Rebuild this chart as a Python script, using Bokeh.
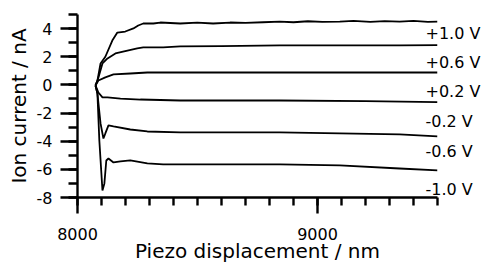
from bokeh.plotting import figure
from bokeh.models import SingleIntervalTicker, FixedTicker, LinearAxis, Range1d
from bokeh.embed import file_html
from bokeh.resources import INLINE

# --- data ---
x_p10 = [8075, 8083, 8096, 8116, 8145, 8166, 8199, 8233, 8253, 8274, 8316, 8345, 8428, 8499, 8565, 8636, 8700, 8773, 8843, 8900, 8960, 9020, 9093, 9150, 9220, 9280, 9342, 9400, 9460, 9500]
y_p10 = [-0.04, 0.3, 1.52, 2.0, 3.15, 3.72, 3.79, 4.01, 4.22, 4.36, 4.36, 4.43, 4.36, 4.43, 4.36, 4.43, 4.40, 4.45, 4.50, 4.45, 4.52, 4.47, 4.50, 4.55, 4.48, 4.53, 4.50, 4.55, 4.48, 4.50]

x_p06 = [8075, 8087, 8104, 8125, 8158, 8208, 8249, 8274, 8357, 8428, 8600, 8843, 9100, 9342, 9500]
y_p06 = [-0.04, 0.5, 1.52, 1.88, 2.23, 2.44, 2.59, 2.66, 2.66, 2.73, 2.76, 2.80, 2.80, 2.80, 2.82]

x_p02 = [8075, 8087, 8116, 8150, 8220, 8291, 8500, 8843, 9200, 9500]
y_p02 = [-0.04, 0.31, 0.53, 0.74, 0.81, 0.88, 0.88, 0.88, 0.88, 0.88]

x_m02 = [8075, 8087, 8104, 8125, 8179, 8262, 8428, 8843, 9200, 9500]
y_m02 = [-0.04, -0.54, -0.89, -0.89, -0.97, -1.04, -1.11, -1.11, -1.15, -1.22]

x_m06 = [8075, 8083, 8096, 8108, 8116, 8129, 8150, 8220, 8291, 8428, 8843, 9093, 9342, 9500]
y_m06 = [-0.04, -0.61, -2.74, -3.81, -3.45, -2.88, -2.95, -3.17, -3.31, -3.38, -3.38, -3.45, -3.52, -3.66]

x_m10 = [8075, 8083, 8091, 8104, 8112, 8120, 8129, 8150, 8179, 8220, 8291, 8357, 8500, 8843, 9093, 9342, 9500]
y_m10 = [-0.04, -0.61, -3.95, -7.5, -7.0, -5.37, -5.23, -5.51, -5.44, -5.37, -5.58, -5.65, -5.65, -5.65, -5.72, -5.94, -6.08]

series_labels = ["+1.0 V", "+0.6 V", "+0.2 V", "-0.2 V", "-0.6 V", "-1.0 V"]
label_y = [3.65, 1.59, -0.47, -2.6, -4.73, -7.43]

x_major_step = 1000
x_minor_per_major = 10
y_major_step = 2
y_minor_per_major = 2
y_major = [-8, -6, -4, -2, 0, 2, 4]
y_tick_text = ["-8", "-6", "-4", "-2", "0", "2", "4"]

FONT = "DejaVu Sans"

p = figure(width=483, height=265, output_backend="svg", toolbar_location=None,
           x_range=Range1d(8000, 9500), y_range=Range1d(-8, 5),
           min_border_left=77, min_border_right=45, min_border_top=14, min_border_bottom=68)
p.outline_line_color = None
p.grid.visible = False
p.background_fill_color = "white"
p.border_fill_color = "white"

for xs, ys in [(x_p10, y_p10), (x_p06, y_p06), (x_p02, y_p02),
               (x_m02, y_m02), (x_m06, y_m06), (x_m10, y_m10)]:
    p.line(xs, ys, line_color="black", line_width=1.8)

main_x = p.below[0]
main_y = p.left[0]
main_x.ticker = SingleIntervalTicker(interval=x_major_step, num_minor_ticks=x_minor_per_major)
main_y.ticker = SingleIntervalTicker(interval=y_major_step, num_minor_ticks=y_minor_per_major)
main_y.major_label_overrides = {v: t for v, t in zip(y_major, y_tick_text)}

# series labels at the right end of each curve, drawn as a label-only axis
lab_axis = LinearAxis(ticker=FixedTicker(ticks=label_y, minor_ticks=[]),
                      major_label_overrides={v: t for v, t in zip(label_y, series_labels)},
                      axis_line_color=None, major_tick_line_color=None,
                      minor_tick_line_color=None, major_tick_out=0, major_tick_in=0,
                      minor_tick_out=0, minor_tick_in=0,
                      major_label_standoff=-12,
                      major_label_text_font=FONT, major_label_text_font_size="16px",
                      major_label_text_color="black")
p.add_layout(lab_axis, "right")

for ax in (main_x, main_y):
    ax.axis_line_width = 2.4
    ax.axis_line_color = "black"
    ax.major_tick_line_width = 2.4
    ax.minor_tick_line_width = 2.4
    ax.major_tick_line_color = "black"
    ax.minor_tick_line_color = "black"
    ax.major_tick_in = 0
    ax.minor_tick_in = 0
    ax.major_label_text_font = FONT
    ax.major_label_text_font_size = "16px"
    ax.major_label_text_color = "black"
    ax.axis_label_text_font = FONT
    ax.axis_label_text_font_size = "20px"
    ax.axis_label_text_font_style = "normal"
    ax.axis_label_text_color = "black"

main_x.major_tick_out = 16
main_x.minor_tick_out = 8
main_y.major_tick_out = 17
main_y.minor_tick_out = 9
main_x.major_label_standoff = 14
main_y.major_label_standoff = 8
main_x.axis_label = "Piezo displacement / nm"
main_y.axis_label = "Ion current / nA"
main_x.axis_label_standoff = -4
main_y.axis_label_standoff = 3

open("out.html", "w").write(file_html(p, INLINE))
